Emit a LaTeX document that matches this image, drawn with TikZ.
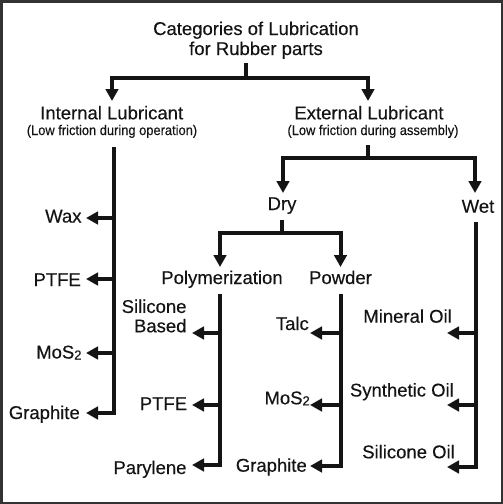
\documentclass[tikz,border=0pt]{standalone}
\usepackage{fontspec}
\setmainfont{Liberation Sans}[FakeBold=0.35]
\usetikzlibrary{arrows.meta}
\newcommand{\mosz}{MoS\raisebox{-1pt}{\fontsize{13}{13}\selectfont 2}}
\begin{document}
\begin{tikzpicture}[x=1pt,y=-1pt,
  ln/.style={line width=4pt, draw=black!92, line join=miter},
  arr/.style={ln, -{Triangle[length=12pt,width=12.5pt]}},
  lab/.style={font=\fontsize{18.5}{19.4}\selectfont, inner sep=0pt, text=black!92},
  sublab/.style={font=\fontsize{14}{16}\selectfont, inner sep=0pt, text=black!92}]
\useasboundingbox (0,0) rectangle (503,504);
\draw[line width=2.5pt, draw=black!80] (1.25,1.25) rectangle (501.75,502.75);

% titles and labels
\node[lab, anchor=base] (title1) at (256,35) {Categories of Lubrication};
\node[lab, anchor=base] (title2) at (256,55) {for Rubber parts};
\node[lab, anchor=base] (int) at (111.7,119.3) {Internal Lubricant};
\node[sublab, anchor=base] (intsub) at (112,135) {\scalebox{0.92}[1]{(Low friction during operation)}};
\node[lab, anchor=base] (ext) at (369,119.3) {External Lubricant};
\node[sublab, anchor=base] (extsub) at (373,135) {\scalebox{0.92}[1]{(Low friction during assembly)}};

\node[lab, anchor=base east] (wax) at (81.7,222.5) {Wax};
\node[lab, anchor=base east] (ptfe1) at (81,286) {PTFE};
\node[lab, anchor=base east] (mos1) at (81.7,358.5) {\mosz};
\node[lab, anchor=base east] (gra1) at (80,419) {Graphite};

\node[lab, anchor=base] (dry) at (282,210) {Dry};
\node[lab, anchor=base] (wet) at (478,212.7) {Wet};
\node[lab, anchor=base] (poly) at (222,284) {Polymerization};
\node[lab, anchor=base] (powder) at (340.5,284) {Powder};

\node[lab, anchor=base east, align=right] (sil) at (186.7,332.3) {Silicone\\Based};
\node[lab, anchor=base east] (ptfe2) at (187.3,410) {PTFE};
\node[lab, anchor=base east] (pary) at (186.7,474) {Parylene};

\node[lab, anchor=base east] (talc) at (309,330) {Talc};
\node[lab, anchor=base east] (mos2) at (310,404.3) {\mosz};
\node[lab, anchor=base east] (gra2) at (307,471.7) {Graphite};

\node[lab, anchor=base east] (min) at (452,322.7) {Mineral Oil};
\node[lab, anchor=base east] (syn) at (454,396.5) {Synthetic Oil};
\node[lab, anchor=base east] (silo) at (455,458.3) {Silicone Oil};

% junction and tip coordinates
\coordinate (t0) at (246,63);   \coordinate (j0) at (246,78);
\coordinate (intTip) at (112,101); \coordinate (extTip) at (368,101);
\coordinate (e0) at (368,145);  \coordinate (j1) at (368,158);
\coordinate (dryTip) at (283,193); \coordinate (wetTip) at (475,193);
\coordinate (d0) at (282,220);  \coordinate (j2) at (282,233);
\coordinate (polyTip) at (220,267); \coordinate (powTip) at (340.5,267);

\coordinate (iTop) at (114,147);
\coordinate (iw) at (114,218); \coordinate (ip) at (114,279); \coordinate (im) at (114,353);
\coordinate (iwT) at (86,218); \coordinate (ipT) at (86,279); \coordinate (imT) at (86,353);
\coordinate (igT) at (86,413);

\coordinate (pTop) at (220,294);
\coordinate (ps) at (220,333); \coordinate (pp) at (220,405);
\coordinate (psT) at (192,333); \coordinate (ppT) at (192,405); \coordinate (pyT) at (192,465);

\coordinate (wTop) at (340.5,294);
\coordinate (wt) at (340.5,333); \coordinate (wm) at (340.5,405);
\coordinate (wtT) at (310,333); \coordinate (wmT) at (310,405); \coordinate (wgT) at (310,466);

\coordinate (oTop) at (475.5,222);
\coordinate (om) at (475.5,333); \coordinate (os) at (475.5,405);
\coordinate (omT) at (447,333); \coordinate (osT) at (447,405); \coordinate (oiT) at (447,467);

% connectors
\draw[ln] (t0) -- (j0);
\draw[arr] (j0) -| (intTip);
\draw[arr] (j0) -| (extTip);

\draw[ln] (e0) -- (j1);
\draw[arr] (j1) -| (dryTip);
\draw[arr] (j1) -| (wetTip);

\draw[ln] (d0) -- (j2);
\draw[arr] (j2) -| (polyTip);
\draw[arr] (j2) -| (powTip);

\draw[arr] (iTop) |- (igT);
\draw[arr] (iw) -- (iwT);
\draw[arr] (ip) -- (ipT);
\draw[arr] (im) -- (imT);

\draw[arr] (pTop) |- (pyT);
\draw[arr] (ps) -- (psT);
\draw[arr] (pp) -- (ppT);

\draw[arr] (wTop) |- (wgT);
\draw[arr] (wt) -- (wtT);
\draw[arr] (wm) -- (wmT);

\draw[arr] (oTop) |- (oiT);
\draw[arr] (om) -- (omT);
\draw[arr] (os) -- (osT);
\end{tikzpicture}
\end{document}
